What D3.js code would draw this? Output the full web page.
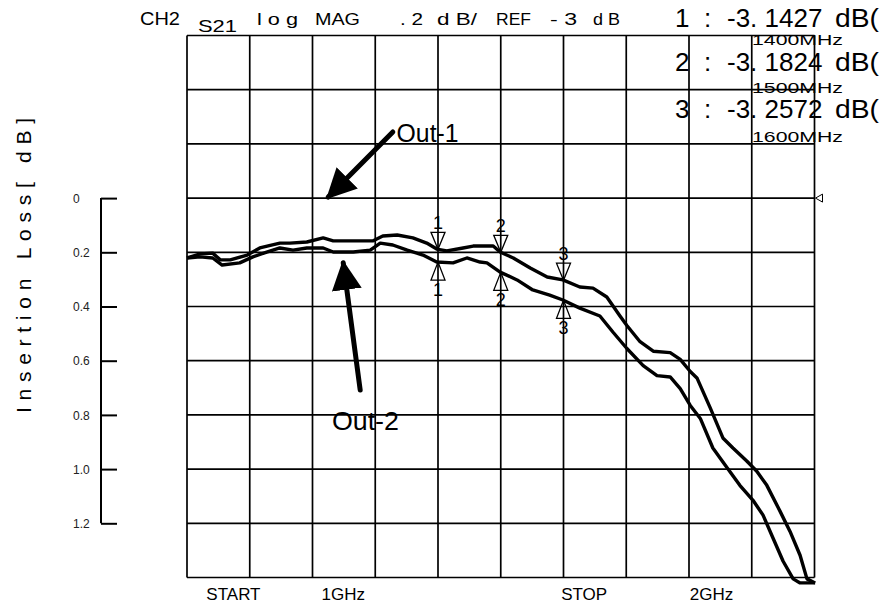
<!DOCTYPE html>
<html>
<head>
<meta charset="utf-8">
<script src="https://d3js.org/d3.v7.min.js"></script>
<style>
body { margin: 0; background: #fff; }
svg { display: block; font-family: "Liberation Sans", Arial, sans-serif; }
.grid line { stroke: #000; stroke-width: 1.7; }
.trace { fill: none; stroke: #000; stroke-width: 3.4; stroke-linejoin: round; }
.yaxis path, .yaxis line { stroke: #000; stroke-width: 2; }
.yaxis text { font-size: 12px; fill: #222; }
</style>
</head>
<body>
<div id="plot"></div>
<script>
var width = 883, height = 604;

// Out-1 trace (frequency in MHz, insertion loss in dB)
var out1Freq = [1000, 1021, 1041, 1053, 1069, 1096, 1116, 1148, 1164, 1191, 1217, 1233, 1265, 1296,
  1312, 1335, 1360, 1382, 1398, 1414, 1440, 1456, 1488, 1499, 1520, 1547, 1574, 1599, 1626, 1647,
  1669, 1690, 1701, 1722, 1743, 1770, 1786, 1802, 1813, 1834, 1854, 1870, 1892, 1908, 1924, 1945,
  1961, 1977, 1988, 2001];
var out1Loss = [0.221, 0.206, 0.203, 0.228, 0.228, 0.210, 0.184, 0.166, 0.166, 0.162, 0.147, 0.158, 0.158, 0.158,
  0.140, 0.136, 0.147, 0.166, 0.188, 0.195, 0.184, 0.177, 0.177, 0.199, 0.221, 0.258, 0.291, 0.302, 0.328, 0.332,
  0.365, 0.435, 0.470, 0.530, 0.565, 0.570, 0.595, 0.640, 0.665, 0.775, 0.885, 0.922, 0.970, 1.008, 1.060, 1.155,
  1.230, 1.318, 1.405, 1.42];

// Out-2 trace
var out2Freq = [1000, 1021, 1041, 1056, 1084, 1105, 1127, 1148, 1169, 1191, 1217, 1233, 1265, 1292,
  1308, 1328, 1351, 1376, 1398, 1424, 1446, 1467, 1478, 1499, 1526, 1551, 1578, 1599, 1626, 1658,
  1679, 1701, 1727, 1749, 1770, 1786, 1802, 1818, 1838, 1861, 1881, 1902, 1918, 1934, 1950, 1966,
  1977, 2001];
var out2Loss = [0.221, 0.217, 0.221, 0.247, 0.239, 0.217, 0.199, 0.184, 0.192, 0.184, 0.184, 0.199, 0.199, 0.192,
  0.166, 0.173, 0.192, 0.210, 0.236, 0.239, 0.221, 0.236, 0.239, 0.273, 0.302, 0.339, 0.358, 0.376, 0.406, 0.435,
  0.495, 0.555, 0.618, 0.655, 0.660, 0.703, 0.765, 0.813, 0.922, 0.996, 1.060, 1.115, 1.170, 1.255, 1.340, 1.405,
  1.42, 1.42];

var yTicks = [0, 0.2, 0.4, 0.6, 0.8, 1.0, 1.2];

var markerNames = ["1", "2", "3"];
var markerFreqs = [1400, 1500, 1600];
var readoutValues = ["-3. 1427", "-3. 1824", "-3. 2572"];
var readoutFreqs = ["1400MHz", "1500MHz", "1600MHz"];

var xLabels = ["START", "1GHz", "STOP", "2GHz"];
var xLabelFreqs = [1074, 1249, 1633, 1836];

var svg = d3.select("#plot").append("svg")
  .attr("width", width).attr("height", height);

var x0 = 187, x1 = 814.5, yTop = 35.5, yBot = 577.5;

var xScale = d3.scaleLinear().domain([1000, 2000]).range([x0, x1]);
var yScale = d3.scaleLinear().domain([-0.6, 1.4]).range([yTop, yBot]);

// grid, 10 x 10 divisions
var grid = svg.append("g").attr("class", "grid");
grid.selectAll("line.v").data(d3.range(1000, 2001, 100)).enter().append("line")
  .attr("class", "v")
  .attr("x1", function (d) { return xScale(d); }).attr("x2", function (d) { return xScale(d); })
  .attr("y1", yTop).attr("y2", yBot);
grid.selectAll("line.h").data(d3.range(-0.6, 1.41, 0.2)).enter().append("line")
  .attr("class", "h")
  .attr("y1", function (d) { return yScale(d); }).attr("y2", function (d) { return yScale(d); })
  .attr("x1", x0).attr("x2", x1);

// reference level marker on the right
var r0 = yScale(0);
svg.append("path")
  .attr("d", "M" + (x1 + 1) + "," + r0 + "L" + (x1 + 8) + "," + (r0 - 4) + "L" + (x1 + 8) + "," + (r0 + 4) + "Z")
  .style("fill", "none").style("stroke", "#000").style("stroke-width", 1);

// left insertion loss axis
var yAxis = d3.axisRight(yScale).tickValues(yTicks).tickSizeInner(16).tickSizeOuter(0)
  .tickFormat(function (d) { return d === 0 ? "0" : d.toFixed(1); });
var ax = svg.append("g").attr("class", "yaxis")
  .attr("transform", "translate(101,0)")
  .call(yAxis);
ax.select(".domain").attr("d", "M0," + yScale(0) + "V" + yScale(1.2));
ax.selectAll("text").attr("x", -28).attr("dy", "0.35em").style("text-anchor", "start");

svg.append("text")
  .attr("transform", "translate(31,413) rotate(-90)")
  .attr("textLength", 295).attr("lengthAdjust", "spacing")
  .style("font-size", "21px")
  .text("Insertion Loss[ dB]");

// traces
var line = d3.line()
  .x(function (d) { return xScale(d[0]); })
  .y(function (d) { return yScale(d[1]); });

var out1 = d3.zip(out1Freq, out1Loss);
var out2 = d3.zip(out2Freq, out2Loss);
svg.append("path").attr("class", "trace").attr("d", line(out1));
svg.append("path").attr("class", "trace").attr("d", line(out2));

function valueAt(freqs, losses, f) {
  var i = d3.bisectLeft(freqs, f);
  if (i <= 0) return losses[0];
  var t = (f - freqs[i - 1]) / (freqs[i] - freqs[i - 1]);
  return losses[i - 1] + t * (losses[i] - losses[i - 1]);
}

// markers
markerFreqs.forEach(function (f, i) {
  var mx = xScale(f);
  var ya = yScale(valueAt(out1Freq, out1Loss, f));
  var yb = yScale(valueAt(out2Freq, out2Loss, f));
  svg.append("path")
    .attr("d", "M" + mx + "," + ya + "L" + (mx - 7) + "," + (ya - 17) + "L" + (mx + 7) + "," + (ya - 17) + "Z")
    .style("fill", "none").style("stroke", "#000").style("stroke-width", 1.3);
  svg.append("text").attr("x", mx).attr("y", ya - 20)
    .style("text-anchor", "middle").style("font-size", "18px").text(markerNames[i]);
  svg.append("path")
    .attr("d", "M" + mx + "," + yb + "L" + (mx - 7) + "," + (yb + 18) + "L" + (mx + 7) + "," + (yb + 18) + "Z")
    .style("fill", "none").style("stroke", "#000").style("stroke-width", 1.3);
  svg.append("text").attr("x", mx).attr("y", yb + 34)
    .style("text-anchor", "middle").style("font-size", "18px").text(markerNames[i]);
});

// arrows with labels
svg.append("defs").append("marker")
  .attr("id", "head").attr("viewBox", "0 0 10 10").attr("refX", 9).attr("refY", 5)
  .attr("markerWidth", 6).attr("markerHeight", 6).attr("orient", "auto")
  .attr("markerUnits", "strokeWidth")
  .append("path").attr("d", "M0,0L10,5L0,10Z").style("fill", "#000");

var arrows = [
  { from: [1328, -0.244], to: [1225, -0.004], label: "Out-1", at: [1334, -0.207], len: 62 },
  { from: [1276, 0.708], to: [1249, 0.239], label: "Out-2", at: [1231, 0.856], len: 67 }
];
arrows.forEach(function (a) {
  svg.append("line")
    .attr("x1", xScale(a.from[0])).attr("y1", yScale(a.from[1]))
    .attr("x2", xScale(a.to[0])).attr("y2", yScale(a.to[1]))
    .style("stroke", "#000").style("stroke-width", 5).style("stroke-linecap", "round")
    .attr("marker-end", "url(#head)");
  svg.append("text").attr("x", xScale(a.at[0])).attr("y", yScale(a.at[1]))
    .attr("textLength", a.len).attr("lengthAdjust", "spacingAndGlyphs")
    .style("font-size", "26px").text(a.label);
});

// header line
var header = [
  ["CH2", 140, 25, 18, 40], ["S21", 198, 32, 17, 39], ["l o g", 257, 25, 17, 41],
  ["MAG", 315, 25, 17, 45], [". 2", 400, 25, 17, 23], ["d B/", 437, 25, 17, 40],
  ["REF", 496, 25, 17, 35], ["- 3", 550, 25, 17, 27], ["d B", 593, 25, 17, 27]
];
header.forEach(function (h) {
  svg.append("text").attr("x", h[1]).attr("y", h[2])
    .attr("textLength", h[4]).attr("lengthAdjust", "spacingAndGlyphs")
    .style("font-size", h[3] + "px").text(h[0]);
});

// marker readouts
var rowBase = [27, 71, 118], freqBase = [45, 93, 142];
readoutValues.forEach(function (v, i) {
  var g = svg.append("g").style("font-size", "26px");
  g.append("text").attr("x", 675).attr("y", rowBase[i]).text(markerNames[i]);
  g.append("text").attr("x", 704).attr("y", rowBase[i]).text(":");
  g.append("text").attr("x", 727).attr("y", rowBase[i]).text(v);
  g.append("text").attr("x", 835).attr("y", rowBase[i])
    .attr("textLength", 44).attr("lengthAdjust", "spacingAndGlyphs").text("dB(");
  svg.append("text").attr("x", 752).attr("y", freqBase[i])
    .attr("textLength", 91).attr("lengthAdjust", "spacingAndGlyphs")
    .style("font-size", "15px").text(readoutFreqs[i]);
});

// frequency labels under the grid
svg.selectAll("text.xl").data(xLabels).enter().append("text")
  .attr("class", "xl")
  .attr("x", function (d, i) { return xScale(xLabelFreqs[i]); })
  .attr("y", 600)
  .style("text-anchor", "middle").style("font-size", "17px")
  .text(function (d) { return d; });
</script>
</body>
</html>
